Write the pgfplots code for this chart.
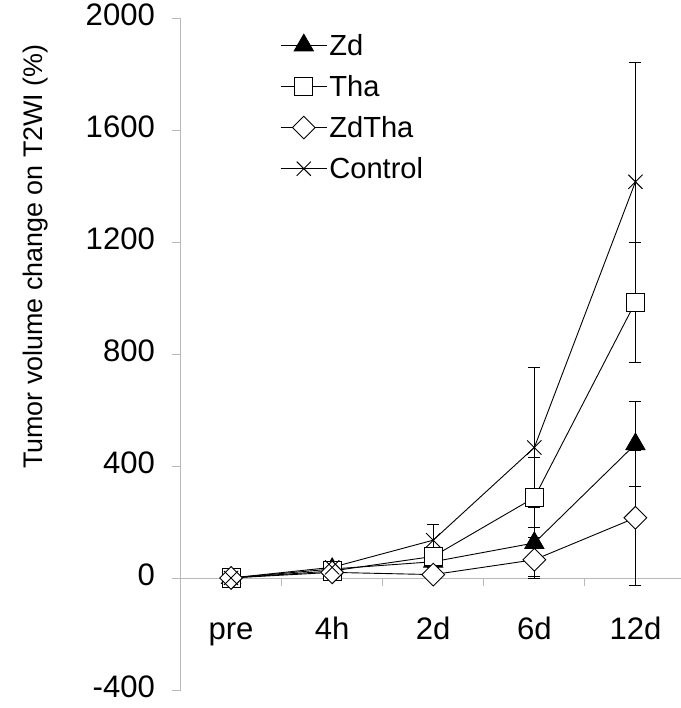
\documentclass[border=0pt]{standalone}
\usepackage{fontspec}
\setmainfont{Liberation Sans}
\usepackage{pgfplots}
\pgfplotsset{compat=1.18}

\begin{document}
\begin{tikzpicture}
\path[use as bounding box] (-180pt,-18pt) rectangle (499pt,688pt);
\begin{axis}[
    at={(0,0)}, anchor=south west,
    scale only axis,
    width=499pt, height=670pt,
    xmin=-0.5, xmax=4.45,
    ymin=-400, ymax=2000,
    axis x line=middle, axis y line=left,
    axis line style={-, draw=gray!55, line width=0.8pt},
    xtick={0,1,2,3,4},
    xticklabels={pre,4h,2d,6d,12d},
    major x tick style={draw=none},
    minor xtick={0.5,1.5,2.5,3.5},
    ytick={-400,0,...,2000},
    tick align=outside,
    major tick length=8pt, minor tick length=8pt,
    tick style={draw=gray!55, line width=0.8pt},
    typeset ticklabels with strut,
    tick label style={font=\fontsize{31}{36}\selectfont},
    /pgf/number format/assume math mode=true,
    /pgf/number format/1000 sep={},
    x tick label style={yshift=-25pt},
    y tick label style={xshift=-14pt},
    ylabel={Tumor volume change on T2WI (\%)},
    every axis y label/.style={at={(axis description cs:-0.29,0.645)}, rotate=90, anchor=center, font=\fontsize{26.8}{31}\selectfont},
    legend style={at={(axis description cs:0.193,0.9825)}, anchor=north west, draw=none, fill=none, font=\fontsize{29}{34}\selectfont, row sep=14.5pt},
    legend cell align=left,
    legend image code/.code={\draw[mark repeat=2,mark phase=2,#1] plot coordinates {(0pt,0pt) (23pt,0pt) (46pt,0pt)};},
    clip=false,
]

% Zd
\addplot+[black, line width=0.9pt, mark=triangle*, mark size=11pt, mark options={fill=black, solid},
    error bars/.cd, y dir=both, y explicit,
    error bar style={black, line width=0.8pt},
    error mark options={rotate=90, mark size=6pt, black, line width=0.8pt}]
    coordinates {
        (0,0) +- (0,0)
        (1,32) +- (0,8)
        (2,58) +- (0,20)
        (3,125) +- (0,126)
        (4,478) +- (0,152)
    };

% Tha
\addplot+[black, line width=0.9pt, mark=square*, mark size=9pt, mark options={fill=white, solid},
    error bars/.cd, y dir=both, y explicit,
    error bar style={black, line width=0.8pt},
    error mark options={rotate=90, mark size=6pt, black, line width=0.8pt}]
    coordinates {
        (0,0) +- (0,0)
        (1,25) +- (0,8)
        (2,77) +- (0,23)
        (3,287) +- (0,143)
        (4,985) +- (0,215)
    };

% ZdTha
\addplot+[black, line width=0.9pt, mark=square*, mark size=8pt, mark options={fill=white, rotate=45, solid},
    error bars/.cd, y dir=both, y explicit,
    error bar style={black, line width=0.8pt},
    error mark options={rotate=90, mark size=6pt, black, line width=0.8pt}]
    coordinates {
        (0,0) +- (0,0)
        (1,20) +- (0,8)
        (2,12) +- (0,10)
        (3,65) +- (0,60)
        (4,215) +- (0,240)
    };

% Control
\addplot+[black, line width=0.9pt, mark=x, mark size=10pt, mark options={solid},
    error bars/.cd, y dir=both, y explicit,
    error bar style={black, line width=0.8pt},
    error mark options={rotate=90, mark size=6pt, black, line width=0.8pt}]
    coordinates {
        (0,0) +- (0,0)
        (1,38) +- (0,10)
        (2,135) +- (0,55)
        (3,466) +- (0,287)
        (4,1415) +- (0,425)
    };

\legend{Zd, Tha, ZdTha, Control}
\end{axis}
\end{tikzpicture}
\end{document}
